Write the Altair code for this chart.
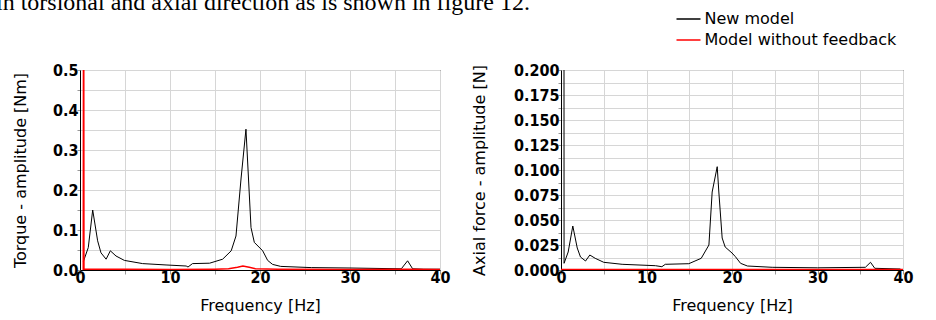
import altair as alt
import pandas as pd

TOP_TEXT = "in torsional and axial direction as is shown in figure 12."
SERIES = ["New model", "Model without feedback"]
COLORS = ["#000000", "#ff0000"]

# Torque amplitude – new model
torque_new_f = [0.37, 0.92, 1.41, 1.96, 2.33, 2.9, 3.37, 4.0, 4.93, 6.96, 9.56, 11.8, 12.0,
                12.5, 14.4, 15.85, 16.8, 17.33, 17.9, 18.44, 19.0, 19.37, 20.3, 20.85, 21.4,
                22.3, 25.7, 30.0, 35.7, 36.4, 36.96, 38.2, 40.0]
torque_new_v = [0.021, 0.056, 0.150, 0.073, 0.043, 0.027, 0.048, 0.035, 0.024, 0.016, 0.0126,
                0.010, 0.0075, 0.016, 0.017, 0.027, 0.048, 0.085, 0.23, 0.352, 0.106, 0.069,
                0.048, 0.024, 0.014, 0.009, 0.006, 0.005, 0.003, 0.023, 0.003, 0.002, 0.002]

# Torque amplitude – model without feedback
torque_old_f = [0.36, 0.40, 0.44, 2.0, 5.0, 10.0, 15.0, 16.5, 17.5, 18.1, 18.8, 19.5, 22.0,
                30.0, 36.4, 40.0]
torque_old_v = [0.0, 1.0, 0.002, 0.002, 0.002, 0.001, 0.002, 0.003, 0.007, 0.010, 0.007,
                0.003, 0.002, 0.001, 0.002, 0.001]

# Axial force amplitude – new model
axial_new_f = [0.32, 0.36, 0.84, 1.38, 1.9, 2.28, 2.87, 3.37, 4.0, 5.0, 7.15, 11.05, 11.8,
               12.2, 14.95, 16.4, 17.3, 17.68, 18.27, 18.46, 18.85, 19.2, 20.0, 20.4, 21.0,
               21.8, 24.7, 30.0, 35.6, 36.2, 36.7, 39.7]
axial_new_v = [1.0, 0.0067, 0.018, 0.044, 0.022, 0.013, 0.009, 0.015, 0.0117, 0.0077, 0.0057,
               0.0043, 0.0033, 0.0057, 0.0063, 0.0117, 0.025, 0.078, 0.1033, 0.078, 0.032,
               0.023, 0.017, 0.0133, 0.0067, 0.004, 0.0027, 0.0022, 0.0027, 0.0077, 0.0017,
               0.001]

# Axial force amplitude – model without feedback
axial_old_f = [0.0, 10.0, 20.0, 30.0, 40.0]
axial_old_v = [0.0006, 0.0006, 0.0006, 0.0006, 0.0006]

X_VALUES = [0, 5, 10, 15, 20, 25, 30, 35, 40]
Y_LEFT_VALUES = [0, 0.05, 0.1, 0.15, 0.2, 0.25, 0.3, 0.35, 0.4, 0.45, 0.5]
Y_RIGHT_VALUES = [0, 0.0125, 0.025, 0.0375, 0.05, 0.0625, 0.075, 0.0875, 0.1, 0.1125,
                  0.125, 0.1375, 0.15, 0.1625, 0.175, 0.1875, 0.2]

LABEL_FONT = "DejaVu Sans Condensed, DejaVu Sans"
TITLE_FONT = "DejaVu Sans"
GRID = "#d6d6d6"


def frame(f, v, s):
    return pd.DataFrame({"f": f, "v": v, "series": s})


color_scale = alt.Scale(domain=SERIES, range=COLORS)


def x_axis():
    return alt.Axis(values=X_VALUES,
                    labelExpr="datum.value % 10 === 0 ? datum.label : ''",
                    grid=True, gridColor=GRID, tickSize=4, tickColor="#999999",
                    domainColor="black", labelFont=LABEL_FONT, labelFontWeight="bold",
                    labelFontSize=16, labelColor="black", labelPadding=-5,
                    labelOverlap=False, labelFlush=False,
                    title="Frequency [Hz]", titleFont=TITLE_FONT, titleFontSize=16,
                    titleFontWeight="normal", titleColor="black", titlePadding=12)


def y_axis(values, expr, fmt, title, pad):
    return alt.Axis(values=values, labelExpr=expr, format=fmt,
                    grid=True, gridColor=GRID, tickSize=3, tickColor="#999999",
                    domainColor="black", labelFont=LABEL_FONT, labelFontWeight="bold",
                    labelFontSize=16, labelColor="black", labelPadding=-1,
                    labelOverlap=False, labelFlush=False,
                    title=title, titleFont=TITLE_FONT, titleFontSize=16,
                    titleFontWeight="normal", titleColor="black", titlePadding=pad)


def panel(df_new, df_old, ydom, yaxis, legend):
    xenc = alt.X("f:Q", scale=alt.Scale(domain=[0, 40], nice=False, zero=False), axis=x_axis())
    yenc = alt.Y("v:Q", scale=alt.Scale(domain=ydom, nice=False), axis=yaxis)
    black = alt.Chart(df_new).mark_line(clip=True, strokeWidth=1).encode(
        x=xenc, y=yenc, color=alt.Color("series:N", scale=color_scale, legend=legend))
    red = alt.Chart(df_old).mark_line(clip=True, strokeWidth=1.5).encode(
        x=xenc, y=yenc, color=alt.Color("series:N", scale=color_scale, legend=legend))
    return black, red


left_black, left_red = panel(
    frame(torque_new_f, torque_new_v, SERIES[0]),
    frame(torque_old_f, torque_old_v, SERIES[1]),
    [0, 0.5],
    y_axis(Y_LEFT_VALUES, "round(datum.value * 100) % 10 === 0 ? datum.label : ''",
           ".1f", "Torque - amplitude [Nm]", 24),
    None)

top_text = alt.Chart(pd.DataFrame({"t": [TOP_TEXT]})).mark_text(
    align="left", baseline="alphabetic", font="Liberation Serif", fontSize=24,
    color="black").encode(x=alt.value(-84), y=alt.value(-60), text="t:N")

left = alt.layer(left_black, left_red, top_text).properties(width=360, height=200)

legend = alt.Legend(orient="none", legendX=114.5, legendY=-64, title=None,
                    symbolType="stroke", symbolSize=576, symbolStrokeWidth=1.5,
                    labelFont=TITLE_FONT, labelFontSize=16, labelColor="black",
                    labelLimit=400, rowPadding=-3, labelOffset=3, padding=0)

right_black, right_red = panel(
    frame(axial_new_f, axial_new_v, SERIES[0]),
    frame(axial_old_f, axial_old_v, SERIES[1]),
    [0, 0.2],
    y_axis(Y_RIGHT_VALUES, "round(datum.value * 10000) % 250 === 0 ? datum.label : ''",
           ".3f", "Axial force - amplitude [N]", 26),
    legend)

right = alt.layer(right_black, right_red).properties(width=342, height=200)

chart = alt.hconcat(left, right, spacing=121, bounds="flush").resolve_scale(
    color="independent").resolve_legend(color="independent").properties(
    padding={"left": -5, "top": -10, "right": 5, "bottom": 2},
    background="white").configure_view(stroke="black", strokeWidth=1)

chart.save("out.html", embed_options={"renderer": "svg", "actions": False})
